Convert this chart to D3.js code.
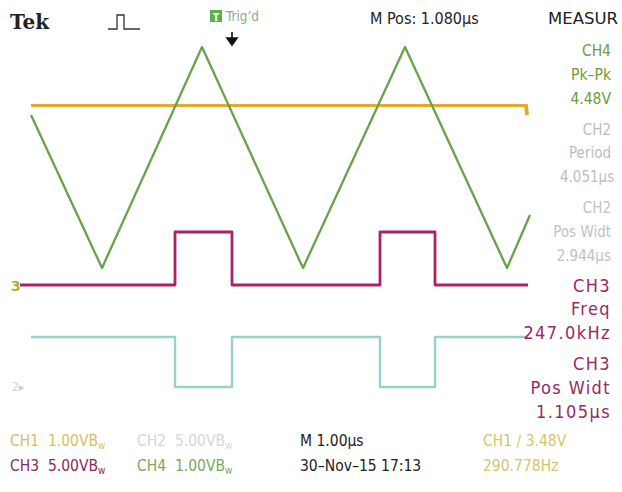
<!DOCTYPE html>
<html>
<head>
<meta charset="utf-8">
<script src="https://cdn.jsdelivr.net/npm/d3@7"></script>
<style>
  html, body { margin: 0; padding: 0; background: #fff; }
  svg { display: block; }
</style>
</head>
<body>
<svg id="scope" width="622" height="492"></svg>
<script>
// ---- Waveform data (time in µs from left edge of screen, amplitude in volts) ----
// CH4: triangle wave vertices
const ch4Time  = [0.02, 1.44, 3.44, 5.46, 7.50, 9.54, 10.0];
const ch4Volts = [3.06, 0.00, 4.42, 0.00, 4.42, 0.00, 1.06];
// CH1: DC level
const ch1Time  = [0.02, 9.92, 9.94];
const ch1Volts = [3.30, 3.30, 3.10];
// CH3: positive pulse train (step after each time)
const ch3Time  = [-0.2, 2.90, 4.04, 7.00, 8.10, 9.96];
const ch3Volts = [0.0, 5.3, 0.0, 5.3, 0.0, 0.0];
// CH2: inverted pulse train
const ch2Time  = [0.02, 2.90, 4.04, 7.00, 8.10, 9.96];
const ch2Volts = [5.0, 0.0, 5.0, 0.0, 5.0, 5.0];

// Vertical settings per channel
const channels    = ["CH1", "CH2", "CH3", "CH4"];
const voltsPerDiv = [1, 5, 5, 1];
const positionDiv = [-0.84, -3.18, -1.14, -0.80];
const traceColors = ["#e6a92c", "#96d2ca", "#ab2468", "#66a34c"];

// Trigger position (µs)
const triggerTime = 4.04;

// Measurement readouts
const measChannel = ["CH4", "CH2", "CH2", "CH3", "CH3"];
const measName    = ["Pk\u2013Pk", "Period", "Pos Widt", "Freq", "Pos Widt"];
const measValue   = ["4.48V", "4.051\u00b5s", "2.944\u00b5s", "247.0kHz", "1.105\u00b5s"];
const measColors  = ["#6c9c3c", "#bdbdbd", "#c2c2c2", "#982869", "#982869"];

// Status bar
const statusRow1 = [
  { text: "CH1  1.00VB", sub: "w", color: "#d9bd62" },
  { text: "CH2  5.00VB", sub: "w", color: "#d6d6d6" },
  { text: "M 1.00\u00b5s", sub: "", color: "#222" },
  { text: "CH1 \u2215 3.48V", sub: "", color: "#d9c36a" }
];
const statusRow2 = [
  { text: "CH3  5.00VB", sub: "w", color: "#8d2a5c" },
  { text: "CH4  1.00VB", sub: "w", color: "#79a85e" },
  { text: "30\u2013Nov\u201315 17:13", sub: "", color: "#222" },
  { text: "290.778Hz", sub: "", color: "#d9c36a" }
];

const COND = "'DejaVu Sans Condensed','Liberation Sans Narrow','Roboto Condensed',sans-serif";
const WIDE = "'DejaVu Sans','Noto Sans',sans-serif";

// Readout typography per measurement block
const measSize    = [15.5, 15, 15, 18, 18];
const measSpacing = [0, 0, 0, 1.4, 1.4];
const measLeftX   = [560, 560, 552, 522, 522];

const svg = d3.select("#scope");

// Screen: 10 horizontal divisions, 8 vertical divisions
const x = d3.scaleLinear().domain([0, 10]).range([30, 530]);
const yDiv = d3.scaleLinear().domain([-4, 4]).range([428, 28]);

const defs = svg.append("defs");
defs.append("filter").attr("id", "soft")
  .append("feGaussianBlur").attr("stdDeviation", 0.45);

function traceY(chIndex) {
  return v => yDiv(v / voltsPerDiv[chIndex] + positionDiv[chIndex]);
}

function drawTrace(times, volts, chIndex, curve, width) {
  const yy = traceY(chIndex);
  const pts = times.map((t, i) => [t, volts[i]]);
  const line = d3.line().x(d => x(d[0])).y(d => yy(d[1])).curve(curve);
  svg.append("path")
    .datum(pts)
    .attr("d", line)
    .attr("fill", "none")
    .attr("stroke", traceColors[chIndex])
    .attr("stroke-width", width)
    .attr("stroke-linejoin", "round")
    .attr("filter", "url(#soft)");
}

// Traces
drawTrace(ch1Time, ch1Volts, 0, d3.curveLinear, 3.8);
drawTrace(ch2Time, ch2Volts, 1, d3.curveStepAfter, 2.4);
drawTrace(ch3Time, ch3Volts, 2, d3.curveStepAfter, 2.8);
drawTrace(ch4Time, ch4Volts, 3, d3.curveLinear, 2.3);

// Ground markers on the left edge
const g3 = traceY(2)(0);
svg.append("text").attr("x", 11).attr("y", g3 + 5.5)
  .attr("font-family", "DejaVu Sans").attr("font-weight", "bold")
  .attr("font-size", 14).attr("fill", "#a9b23c").text("3");

const g2 = traceY(1)(0);
svg.append("text").attr("x", 12).attr("y", g2 + 4)
  .attr("font-family", COND).attr("font-size", 12)
  .attr("fill", "#d0d0d0").text("2\u25b8");

// Header
svg.append("text").attr("x", 10).attr("y", 29)
  .attr("font-family", "'DejaVu Serif','Liberation Serif',serif")
  .attr("font-weight", "bold").attr("font-size", 20)
  .attr("fill", "#222").text("Tek");

// Acquisition icon
svg.append("path")
  .attr("d", "M108,29 L117,29 L117,15 L124,15 L124,29 L140,29")
  .attr("fill", "none").attr("stroke", "#333").attr("stroke-width", 1.3);

// Trigger status
svg.append("rect").attr("x", 210).attr("y", 10).attr("width", 12).attr("height", 12)
  .attr("fill", "#5cb04a");
svg.append("text").attr("x", 216).attr("y", 20.5).attr("text-anchor", "middle")
  .attr("font-family", COND).attr("font-weight", "bold").attr("font-size", 10)
  .attr("fill", "#fff").text("T");
svg.append("text").attr("x", 226).attr("y", 21)
  .attr("font-family", COND).attr("font-size", 13.5)
  .attr("fill", "#8fae86").text("Trig\u2019d");

// Trigger position arrow
const tx = x(triggerTime);
svg.append("path")
  .attr("d", `M${tx},32 L${tx},40 M${tx - 5},38 L${tx + 5},38 L${tx},45 Z`)
  .attr("fill", "#111").attr("stroke", "#111").attr("stroke-width", 1.6);

svg.append("text").attr("x", 370).attr("y", 24)
  .attr("font-family", COND).attr("font-size", 16)
  .attr("fill", "#222").text("M Pos: 1.080\u00b5s");
svg.append("text").attr("x", 548).attr("y", 24)
  .attr("font-family", WIDE).attr("font-size", 16.5)
  .attr("fill", "#222").text("MEASUR");

// Measurement readouts: right-aligned, long labels run off the edge
measChannel.forEach((ch, i) => {
  const base = 56 + i * 78.5;
  const lines = [ch, measName[i], measValue[i]];
  lines.forEach((s, j) => {
    const t = svg.append("text")
      .attr("y", base + [0, 23.5, 47.5][j])
      .attr("font-family", COND).attr("font-size", measSize[i])
      .attr("letter-spacing", measSpacing[i])
      .attr("fill", measColors[i]).text(s);
    const w = t.node().getComputedTextLength();
    if (611 - w < measLeftX[i]) t.attr("x", measLeftX[i]).attr("text-anchor", "start");
    else t.attr("x", 611).attr("text-anchor", "end");
  });
});

// Status bar
const colX = [10, 137, 300, 483];
function statusRow(row, yBase) {
  row.forEach((d, i) => {
    const t = svg.append("text").attr("x", colX[i]).attr("y", yBase)
      .attr("font-family", COND).attr("font-size", 15.5)
      .attr("fill", d.color).style("white-space", "pre");
    t.append("tspan").text(d.text);
    if (d.sub) t.append("tspan").attr("font-size", 10).attr("dy", 3).text(d.sub);
  });
}
statusRow(statusRow1, 446);
statusRow(statusRow2, 471);
</script>
</body>
</html>
